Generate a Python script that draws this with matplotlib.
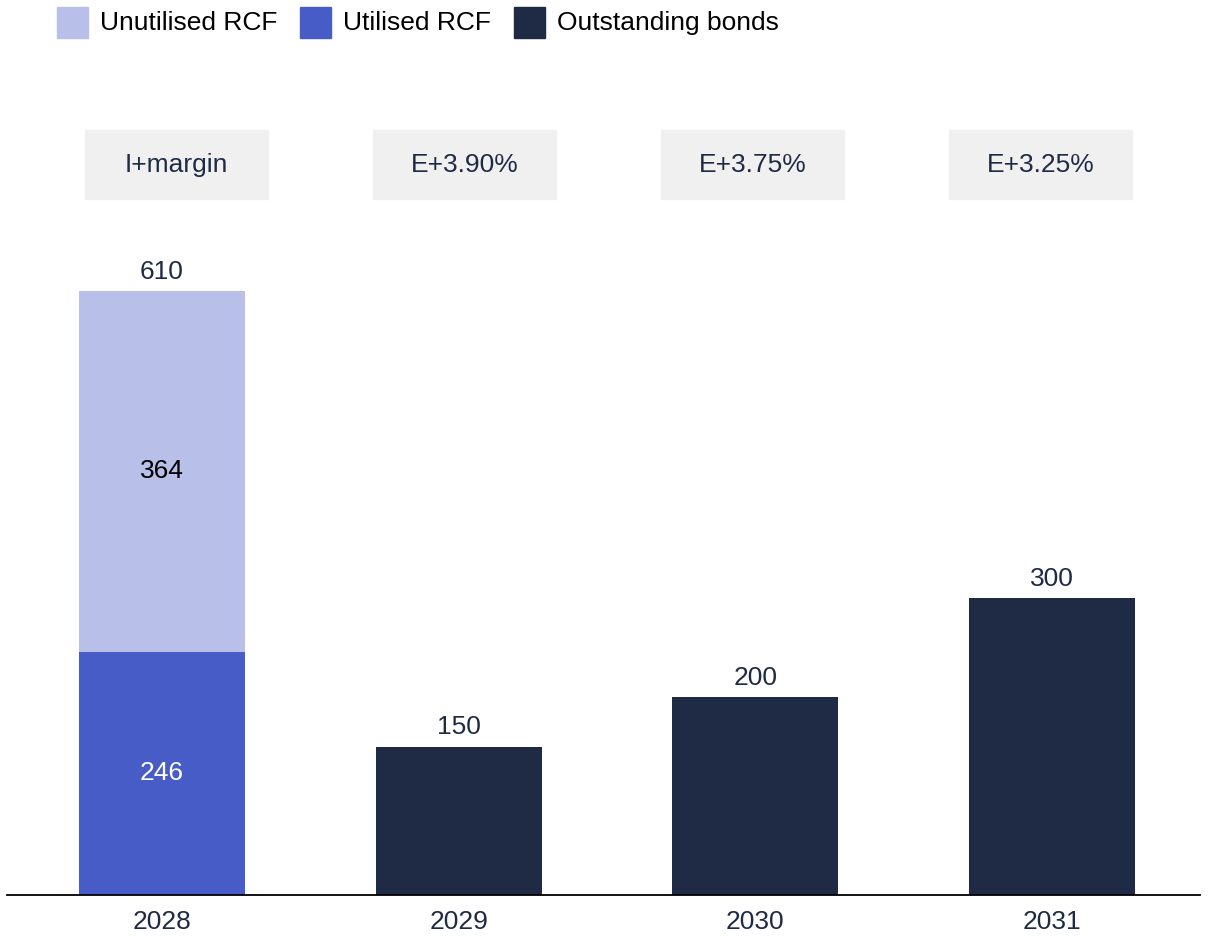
import matplotlib.pyplot as plt
from matplotlib.patches import Rectangle

plt.rcParams['font.family'] = ['Liberation Sans', 'DejaVu Sans']

years = ["2028", "2029", "2030", "2031"]
utilised_rcf = [246, 0, 0, 0]
unutilised_rcf = [364, 0, 0, 0]
bonds = [0, 150, 200, 300]
rate_labels = ["I+margin", "E+3.90%", "E+3.75%", "E+3.25%"]

navy = '#1F2A44'
c_unused = '#B8BFE8'
c_used = '#485CC7'
box_grey = '#F0F0F0'
fs = 19

fig = plt.figure(figsize=(12.08, 9.36), dpi=100)
ax = fig.add_axes([0.0058, 0.0438, 0.9876, 0.846])

x = list(range(len(years)))
w = 0.56
ax.bar(x, utilised_rcf, width=w, color=c_used)
ax.bar(x, unutilised_rcf, width=w, bottom=utilised_rcf, color=c_unused)
ax.bar(x, bonds, width=w, color=navy)

# segment labels
for i in x:
    if utilised_rcf[i]:
        ax.text(i, utilised_rcf[i] / 2, str(utilised_rcf[i]), ha='center', va='center',
                fontsize=fs, color='white')
    if unutilised_rcf[i]:
        ax.text(i, utilised_rcf[i] + unutilised_rcf[i] / 2, str(unutilised_rcf[i]),
                ha='center', va='center', fontsize=fs, color='black')
    total = utilised_rcf[i] + unutilised_rcf[i] + bonds[i]
    ax.annotate(str(total), (i, total), xytext=(0, 14), textcoords='offset points',
                ha='center', va='center', fontsize=fs, color=navy)

# rate boxes
for i, lab in enumerate(rate_labels):
    cx = 0.049 + 0.971 * i
    ax.add_patch(Rectangle((cx - 0.309, 703), 0.618, 70, color=box_grey, clip_on=False))
    ax.text(cx, 738, lab, ha='center', va='center', fontsize=fs, color=navy)

ax.set_xlim(-0.522, 3.499)
ax.set_ylim(0, 800)
ax.set_xticks(x)
ax.set_xticklabels(years, fontsize=fs, color=navy)
ax.tick_params(axis='x', length=0, pad=11)
ax.set_yticks([])
for s in ['top', 'right', 'left']:
    ax.spines[s].set_visible(False)
ax.spines['bottom'].set_linewidth(1.3)
ax.spines['bottom'].set_color('black')

# legend
legend_items = [("Unutilised RCF", c_unused), ("Utilised RCF", c_used), ("Outstanding bonds", navy)]
legend_x = [57, 300, 514]
W, H = 1208, 936
for (lab, col), lx in zip(legend_items, legend_x):
    fig.patches.append(Rectangle((lx / W, 1 - 38 / H), 31 / W, 31 / H, color=col,
                                 transform=fig.transFigure, figure=fig))
    fig.text((lx + 43) / W, 1 - 23 / H, lab, ha='left', va='center', fontsize=fs, color='black')

fig.savefig('out.png', dpi=100)
